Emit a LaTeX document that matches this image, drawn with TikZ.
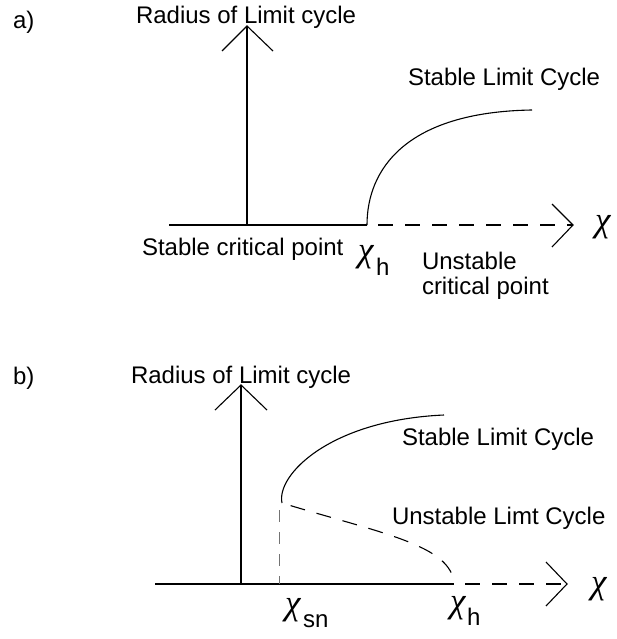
\documentclass[tikz,border=0pt]{standalone}
\usepackage{fontspec}
\setmainfont{Liberation Sans}
\newfontfamily\chifont{Liberation Serif}
\begin{document}
\begin{tikzpicture}[x=1pt,y=-1pt,
  every node/.style={inner sep=0pt,outer sep=0pt,anchor=base west},
  lbl/.style={font=\fontsize{24}{28}\selectfont},
  chi/.style={font=\chifont\itshape\fontsize{35}{38}\selectfont},
  axis/.style={line width=1.1pt},
  curvesolid/.style={line width=1.1pt},
  dashline/.style={line width=1.1pt,dash pattern=on 15pt off 12pt},
  guide/.style={line width=1pt,draw=black!55,dash pattern=on 12pt off 10pt}]
\useasboundingbox (0,0) rectangle (616,639);
% ---------------- panel a ----------------
\node[lbl] (la) at (13,29) {a)};
\node[lbl] (ya) at (136,24) {Radius of Limit cycle};
\coordinate (aO) at (247,225);
\coordinate (aTop) at (247,26);
\coordinate (aL) at (169,225);
\coordinate (aH) at (367,225);
\coordinate (aTip) at (573,225);
\coordinate (aEnd) at (532,110);
\draw[axis] (aO) -- (aTop);
\draw[axis] (222,51) -- (aTop) -- (273,51);
\draw[axis] (aL) -- (aH);
\draw[dashline,dash phase=16pt] (aH) -- (aTip);
\draw[axis] (552,204) -- (aTip) -- (552,247);
\draw[curvesolid] (aH) .. controls (367,170) and (405,112) .. (aEnd);
\node[lbl] (sa) at (408,86) {Stable Limit Cycle};
\node[lbl] (sc) at (142,255) {Stable critical point};
\node[chi] (cha) at (358,261) {χ};
\node[lbl] (ha) at (376,275) {h};
\node[lbl] (ua) at (422,269) {Unstable};
\node[lbl] (ca) at (422,294) {critical point};
\node[chi] (xa) at (595,231) {χ};
% ---------------- panel b ----------------
\node[lbl] (lb) at (13,384) {b)};
\node[lbl] (yb) at (131,383) {Radius of Limit cycle};
\coordinate (bO) at (241,584);
\coordinate (bTop) at (241,385);
\coordinate (bL) at (155,584);
\coordinate (bH) at (454,584);
\coordinate (bTip) at (567,584);
\coordinate (bF) at (282,503);
\coordinate (bEnd) at (444,415);
\coordinate (bSn) at (279,584);
\coordinate (bSnTop) at (279,510);
\draw[axis] (bO) -- (bTop);
\draw[axis] (215,410) -- (bTop) -- (267,410);
\draw[axis] (bL) -- (bH);
\draw[dashline,dash phase=16pt] (bH) -- (bTip);
\draw[axis] (546,562) -- (bTip) -- (546,606);
\draw[curvesolid] (bF) .. controls (276,475) and (330,420) .. (bEnd);
\draw[dashline,dash phase=18pt] (bF) .. controls (380,533) and (452,545) .. (bH);
\draw[guide] (bSnTop) -- (bSn);
\node[lbl] (sb) at (402,445) {Stable Limit Cycle};
\node[lbl] (ub) at (392,524) {Unstable Limt Cycle};
\node[chi] (chsn) at (285,614) {χ};
\node[lbl] (sn) at (303,627) {sn};
\node[chi] (chb) at (450,612) {χ};
\node[lbl] (hb) at (467,625) {h};
\node[chi] (xb) at (591,593) {χ};
\end{tikzpicture}
\end{document}
